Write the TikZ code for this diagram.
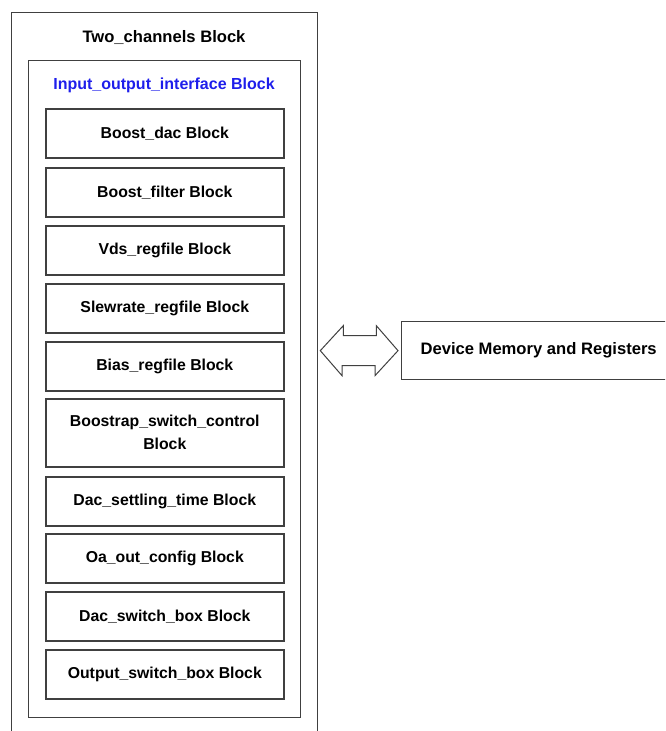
\documentclass[tikz,border=0pt]{standalone}
\usepackage{fontspec}
\setmainfont{Liberation Sans}
\usetikzlibrary{calc}
\definecolor{ioblue}{RGB}{30,30,235}

\begin{document}
\begin{tikzpicture}[x=1pt,y=-1pt,line width=1pt,
  frame/.style={draw=black!75,line width=1.3pt,anchor=north west,inner sep=0pt},
  blk/.style={draw=black!75,line width=1.6pt,anchor=north west,inner sep=0pt,minimum width=238pt,minimum height=49pt,align=center,font=\fontsize{15.8}{23}\selectfont\bfseries},
  head/.style={anchor=base,inner sep=0pt,font=\fontsize{16.6}{20}\selectfont\bfseries}]
\path[use as bounding box] (0,0) rectangle (665,731);
\clip (0,0) rectangle (665,731);
% outer block, runs past the lower edge
\node[frame,minimum width=306pt,minimum height=760pt] (twoch) at (11,12) {};
\node[head] (twochtitle) at (164,42) {Two\_channels Block};
\node[frame,minimum width=272pt,minimum height=657pt] (iobox) at (28,60) {};
\node[head,text=ioblue,font=\fontsize{16}{20}\selectfont\bfseries] (iotitle) at (164,89) {Input\_output\_interface Block};
% inner blocks
\node[blk] (boostdac) at (45,108) {Boost\_dac Block};
\node[blk] (boostfilter) at (45,167) {Boost\_filter Block};
\node[blk] (vdsreg) at (45,225) {Vds\_regfile Block};
\node[blk] (slewreg) at (45,283) {Slewrate\_regfile Block};
\node[blk] (biasreg) at (45,341) {Bias\_regfile Block};
\node[blk,minimum height=68pt] (bootsw) at (45,398) {Boostrap\_switch\_control\\Block};
\node[blk] (dacsettle) at (45,476) {Dac\_settling\_time Block};
\node[blk] (oaout) at (45,533) {Oa\_out\_config Block};
\node[blk] (dacswbox) at (45,591) {Dac\_switch\_box Block};
\node[blk] (outswbox) at (45,649) {Output\_switch\_box Block};
% memory, runs past the right edge
\node[frame,minimum width=274pt,minimum height=58pt,font=\fontsize{16.6}{20}\selectfont\bfseries] (devmem) at (401,321) {Device Memory and Registers};
% hollow double arrow
\coordinate (arrL) at ($(twoch.east |- devmem.west)+(2,0)$);
\coordinate (arrR) at ($(devmem.west)+(-3,0)$);
\draw[black!75,line width=1pt,line join=miter] (arrL) -- ++(23,-25) -- ++(0,10) -- ++(33,0) -- ++(0,-10) -- (arrR)
  -- ++(-23,25) -- ++(0,-10) -- ++(-33,0) -- ++(0,10) -- cycle;
\end{tikzpicture}
\end{document}
